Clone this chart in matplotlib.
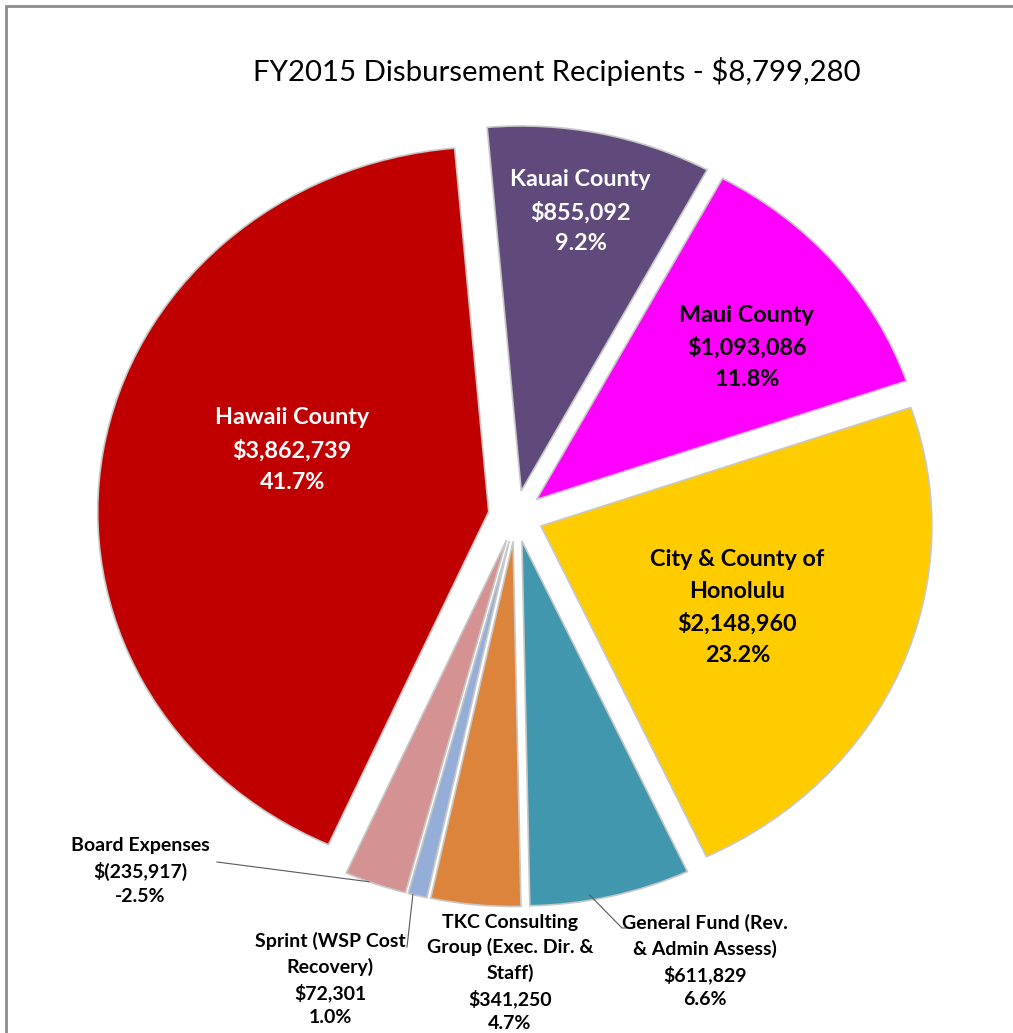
import numpy as np
import matplotlib.pyplot as plt
from matplotlib.patches import Rectangle

# canvas size in pixels
W, H = 1013, 1033
DPI = 100

# slice data, clockwise from the top
names = ['Kauai County', 'Maui County', 'City & County of\nHonolulu',
         'General Fund (Rev.\n& Admin Assess)',
         'TKC Consulting\nGroup (Exec. Dir. &\nStaff)',
         'Sprint (WSP Cost\nRecovery)', 'Board Expenses', 'Hawaii County']
amounts = [855092, 1093086, 2148960, 611829, 341250, 72301, -235917, 3862739]
pct_text = ['9.2%', '11.8%', '23.2%', '6.6%', '4.7%', '1.0%', '-2.5%', '41.7%']
colors = ['#604A7B', '#FF00FF', '#FFCC00', '#4197AD', '#DD843C',
          '#95AED8', '#D49292', '#C00000']
title = 'FY2015 Disbursement Recipients - $8,799,280'


def money(v):
    if v < 0:
        return '$({:,})'.format(-v)
    return '${:,}'.format(v)


plt.rcParams['font.family'] = ['Lato', 'DejaVu Sans']

fig = plt.figure(figsize=(W / DPI, H / DPI), dpi=DPI)
ax = fig.add_axes([0, 0, 1, 1])

# pie centre sits at (516, 516) px, the picture is a bit wider than tall
cx, cy, rx, ry = 515.7, 516, 391, 365

wedges, _ = ax.pie(np.abs(amounts), explode=[0.07] * len(amounts),
                   startangle=95, counterclock=False, colors=colors,
                   wedgeprops=dict(edgecolor='#C8C8C8', linewidth=1.2))

ax.set_aspect('auto')
ax.set_xlim(-cx / rx, (W - cx) / rx)
ax.set_ylim((cy - H) / ry, cy / ry)
ax.axis('off')


def mid_angle(w):
    return np.deg2rad((w.theta1 + w.theta2) / 2)


def arc_point(i, r=1.0, shift=0.0):
    w = wedges[i]
    m = mid_angle(w)
    ox, oy = 0.07 * np.cos(m), 0.07 * np.sin(m)
    a = m + np.deg2rad(shift)
    return ox + r * np.cos(a), oy + r * np.sin(a)


# labels drawn inside the big slices: (index, radius, angle shift, colour)
inside = [(0, 0.78, 0.5, 'white'), (1, 0.68, -2.5, 'black'),
          (2, 0.55, -1.0, 'black'), (7, 0.53, -9.0, 'white')]
for i, r, sh, c in inside:
    x, y = arc_point(i, r, sh)
    ax.text(x, y, '{}\n{}\n{}'.format(names[i], money(amounts[i]), pct_text[i]),
            ha='center', va='center', fontsize=16.8, fontweight='bold',
            color=c, linespacing=1.6)

# labels outside the small slices, positions in px
outside = {3: (705, 961), 4: (510, 973), 5: (330, 979), 6: (140, 871)}
for i, (px, py) in outside.items():
    ax.text((px - cx) / rx, (cy - py) / ry,
            '{}\n{}\n{}'.format(names[i], money(amounts[i]), pct_text[i]),
            ha='center', va='center', fontsize=14, fontweight='bold',
            color='black', linespacing=1.5)

# leader lines
lc = dict(color='#595959', lw=0.8)
bx, by = arc_point(6, 1.0, -1.0)
ax.plot([(217 - cx) / rx, bx], [(cy - 862) / ry, by], **lc)
sx, sy = arc_point(5, 1.0, -0.7)
ax.plot([(407 - cx) / rx, sx], [(cy - 947) / ry, sy], **lc)
gx, gy = arc_point(3, 0.985, -3.0)
ax.plot([(632 - cx) / rx, (622 - cx) / rx, gx],
        [(cy - 928) / ry, (cy - 928) / ry, gy], **lc)

fig.text(557 / W, 1 - 72 / H, title, ha='center', va='center', fontsize=21.2)

# grey frame of the chart area
fig.add_artist(Rectangle((6 / W, -0.1), 2, 1.1 - 6 / H, transform=fig.transFigure,
                         fill=False, edgecolor='#8C8C8C', lw=2))

fig.savefig('out.png', dpi=DPI)
